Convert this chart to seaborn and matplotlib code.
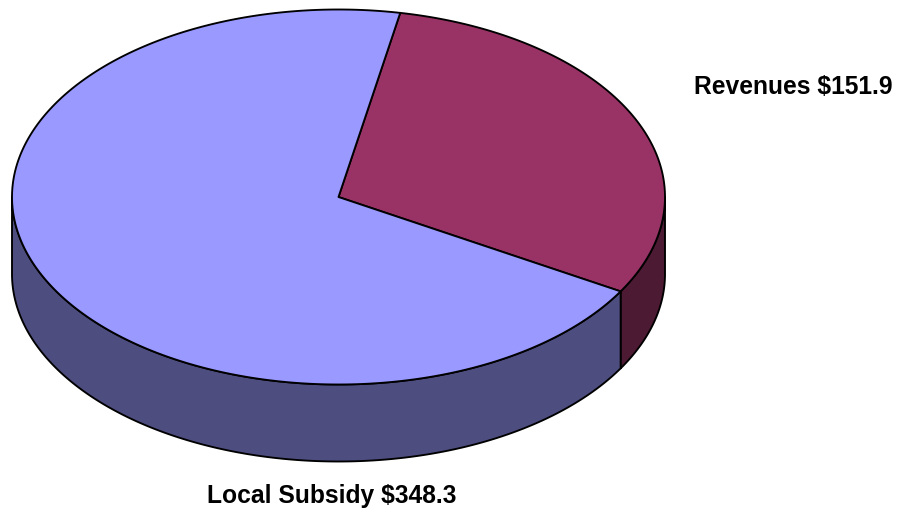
import matplotlib
matplotlib.use("Agg")
import matplotlib.pyplot as plt
import seaborn as sns
import numpy as np

labels = ["Revenues $151.9", "Local Subsidy $348.3"]
values = [151.9, 348.3]
top_colors = ["#993366", "#9999ff"]
side_colors = ["#4d1a33", "#4d4d80"]

sns.set_style("white")
plt.rcParams["font.family"] = ["Liberation Sans", "DejaVu Sans"]

fig = plt.figure(figsize=(8.98, 5.12), dpi=100)
ax = fig.add_axes([0, 0, 1, 1])
ax.set_xlim(0, 898)
ax.set_ylim(512, 0)
ax.axis("off")

cx, cy = 338.5, 197
rx, ry = 326.5, 187.5
depth = 77
start = 79.1


def rim(a0, a1, shift=0):
    t = np.radians(np.linspace(a0, a1, 300))
    return cx + rx * np.cos(t), cy - ry * np.sin(t) + shift


sweeps = np.array(values) / sum(values) * 360
a_rev = (start, start - sweeps[0])
a_sub = (start - sweeps[0], start - 360)

# side walls, only the front half shows
for (a0, a1), col in zip([(a_rev[1], 0), (180, a_rev[1] + 360)], side_colors):
    x1, y1 = rim(a0, a1)
    x2, y2 = rim(a1, a0, depth)
    ax.fill(np.r_[x1, x2], np.r_[y1, y2], facecolor=col, edgecolor="black", lw=1.35, joinstyle="round")

# top slices
for (a0, a1), col in zip([a_rev, a_sub], top_colors):
    x, y = rim(a0, a1)
    ax.fill(np.r_[cx, x], np.r_[cy, y], facecolor=col, edgecolor="black", lw=1.35, joinstyle="round")

ax.text(793.5, 94.5, labels[0], ha="center", va="baseline", fontsize=17.7, fontweight="bold", color="black")
ax.text(332, 503, labels[1], ha="center", va="baseline", fontsize=17.7, fontweight="bold", color="black")

fig.savefig("out.png", dpi=100)
